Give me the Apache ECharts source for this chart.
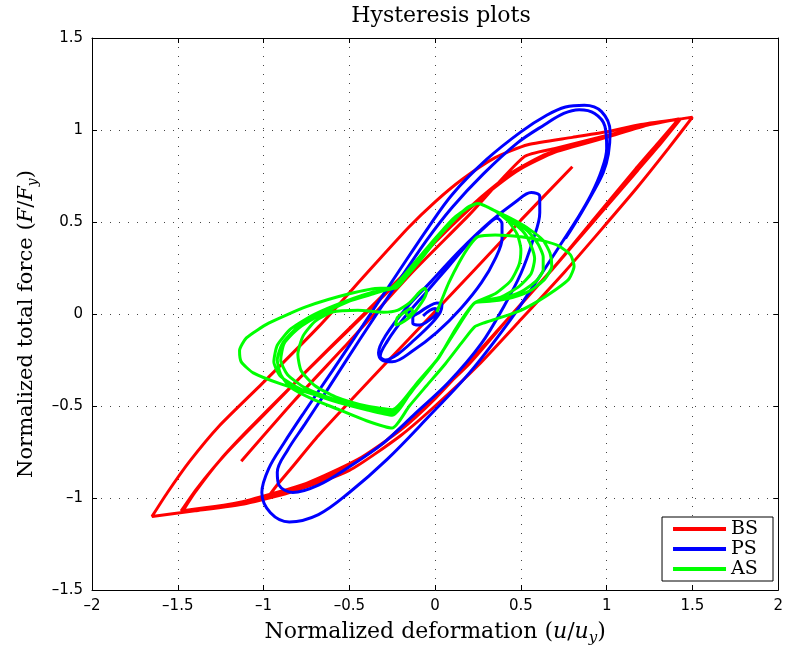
<!DOCTYPE html>
<html>
<head>
<meta charset="utf-8">
<script src="https://cdn.jsdelivr.net/npm/echarts@6/dist/echarts.min.js"></script>
<style>
  html, body { margin: 0; padding: 0; background: #fff; }
  #chart { width: 786px; height: 653px; }
</style>
</head>
<body>
<div id="chart"></div>
<script>
// Normalized deformation / force pairs [u/uy, F/Fy] for each system.
const seriesNames = ['BS', 'PS', 'AS'];

// BS: bilinear-type hysteresis, several full cycles, ends on a reloading branch
const bsPath = [
  [-1.13,-0.80],[-0.82,-0.47],[-0.5,-0.15],[-0.14,0.22],[0.2,0.54],[0.52,0.855],[0.7,0.9],[1.0,0.97],[1.2,1.02],[1.42,1.06],
  [1.3,0.92],[1.18,0.78],[0.93,0.51],[0.68,0.24],[0.43,-0.02],[0.2,-0.26],[0.0,-0.46],[-0.2,-0.63],[-0.45,-0.79],[-0.75,-0.92],[-1.08,-1.01],[-1.3,-1.05],[-1.47,-1.07],
  [-1.4,-0.97],[-1.25,-0.79],[-1.08,-0.62],[-0.77,-0.33],[-0.485,-0.07],[-0.2,0.19],[0.0,0.39],[0.2,0.57],[0.35,0.69],[0.5,0.79],[0.7,0.88],[1.0,0.96],[1.25,1.03],[1.5,1.07],
  [1.36,0.9],[1.18,0.69],[0.97,0.46],[0.756,0.23],[0.5,-0.03],[0.25,-0.28],[0.0,-0.5],[-0.2,-0.66],[-0.5,-0.85],[-0.85,-0.97],[-1.1,-1.03],[-1.4,-1.07],[-1.65,-1.1],
  [-1.56,-0.97],[-1.43,-0.8],[-1.26,-0.61],[-1.01,-0.38],[-0.68,-0.07],[-0.4,0.22],[-0.155,0.47],[0.0,0.61],[0.155,0.73],[0.35,0.85],[0.54,0.92],[0.8,0.96],[1.0,0.99],[1.2,1.03],[1.43,1.06],
  [1.3,0.91],[1.17,0.77],[0.92,0.5],[0.69,0.25],[0.44,-0.01],[0.2,-0.27],[-0.05,-0.49],[-0.3,-0.7],[-0.55,-0.85],[-0.8,-0.95],[-1.1,-1.02],[-1.48,-1.07],
  [-1.39,-0.95],[-1.22,-0.76],[-1.0,-0.55],[-0.75,-0.31],[-0.47,-0.05],[-0.2,0.2],[0.05,0.44],[0.25,0.62],[0.45,0.77],[0.65,0.87],[0.95,0.95],[1.2,1.02],[1.42,1.06],
  [1.3,0.93],[1.17,0.79],[0.93,0.52],[0.69,0.25],[0.44,-0.01],[0.2,-0.27],[-0.05,-0.49],[-0.3,-0.7],[-0.6,-0.88],[-0.85,-0.96],[-0.97,-0.99],
  [-0.93,-0.94],[-0.84,-0.84],[-0.68,-0.66],[-0.3,-0.28],[0.23,0.24],[0.5,0.51],[0.8,0.8]
];

// PS: elliptical loops spiralling out from the origin
const psPath = [
  [-0.07,-0.01],[-0.03,0.02],[0.0,0.03],[0.01,0.01],[-0.03,-0.03],[-0.09,-0.06],[-0.13,-0.05],[-0.13,-0.02],[-0.09,0.01],[-0.04,0.04],[0.01,0.06],[0.04,0.05],[0.03,0.01],[-0.02,-0.05],
  [-0.12,-0.14],[-0.22,-0.22],[-0.29,-0.25],[-0.32,-0.23],
  [-0.28,-0.15],[-0.18,-0.02],[-0.05,0.12],[0.08,0.26],[0.2,0.39],[0.3,0.48],[0.36,0.52],[0.39,0.49],[0.39,0.41],[0.35,0.3],[0.27,0.17],[0.15,0.03],[0.01,-0.1],[-0.13,-0.2],[-0.25,-0.26],[-0.31,-0.25],
  [-0.33,-0.21],[-0.29,-0.12],[-0.17,0.03],[-0.02,0.18],[0.15,0.35],[0.32,0.5],[0.47,0.61],[0.56,0.66],[0.61,0.64],[0.61,0.55],[0.57,0.4],[0.5,0.22],[0.4,0.04],[0.27,-0.16],
  [0.08,-0.37],[-0.115,-0.54],[-0.3,-0.7],[-0.5,-0.83],[-0.68,-0.93],[-0.83,-0.97],[-0.91,-0.93],[-0.92,-0.86],
  [-0.86,-0.74],[-0.76,-0.6],[-0.62,-0.4],[-0.44,-0.14],[-0.24,0.14],[-0.05,0.4],[0.1,0.58],[0.28,0.76],[0.48,0.93],[0.64,1.03],[0.75,1.09],[0.84,1.11],[0.93,1.09],[0.99,1.02],[1.0,0.9],
  [0.97,0.78],[0.91,0.65],[0.83,0.52],[0.74,0.39],[0.6,0.19],[0.44,-0.03],[0.2,-0.32],[-0.04,-0.56],[-0.28,-0.79],[-0.5,-0.97],[-0.68,-1.09],[-0.85,-1.13],[-0.96,-1.08],[-1.01,-0.97],
  [-0.97,-0.84],[-0.88,-0.7],[-0.76,-0.53],[-0.6,-0.31],[-0.42,-0.06],[-0.22,0.22],[-0.04,0.47],[0.1,0.65],[0.3,0.84],[0.5,0.99],[0.65,1.08],[0.76,1.125],[0.87,1.135],[0.97,1.1],[1.02,0.99],[1.01,0.87],[0.98,0.77],[0.92,0.66],[0.84,0.53],[0.76,0.41]
];

// AS: pinched loops with lobes on both sides, settling into small curls
const asPath = [
  [0.01,0.01],[0.04,0.08],[0.08,0.17],[0.14,0.28],[0.2,0.37],[0.25,0.42],[0.35,0.43],[0.5,0.42],[0.62,0.4],[0.72,0.37],[0.79,0.32],[0.81,0.26],[0.78,0.19],[0.7,0.13],[0.6,0.07],[0.5,0.02],[0.38,-0.02],[0.28,-0.05],[0.23,-0.07],
  [0.16,-0.15],[0.06,-0.27],[-0.05,-0.39],[-0.15,-0.5],[-0.25,-0.62],
  [-0.4,-0.58],[-0.56,-0.52],[-0.72,-0.46],[-0.84,-0.4],[-0.9,-0.33],[-0.92,-0.25],[-0.89,-0.16],[-0.8,-0.07],[-0.66,0.01],[-0.5,0.07],[-0.36,0.11],[-0.26,0.14],
  [-0.2,0.19],[-0.1,0.3],[0.0,0.41],[0.1,0.51],[0.18,0.57],[0.25,0.6],
  [0.35,0.56],[0.46,0.51],[0.55,0.46],[0.63,0.4],[0.67,0.33],[0.68,0.26],[0.64,0.19],[0.56,0.13],[0.45,0.09],[0.33,0.07],[0.23,0.06],
  [0.12,-0.08],[0.02,-0.24],[-0.1,-0.37],[-0.25,-0.54],
  [-0.4,-0.51],[-0.66,-0.45],[-0.9,-0.38],[-1.06,-0.32],[-1.13,-0.26],[-1.14,-0.2],[-1.1,-0.13],[-0.97,-0.05],[-0.75,0.04],[-0.5,0.11],[-0.32,0.14],[-0.23,0.14],
  [-0.17,0.2],[-0.08,0.3],[0.02,0.42],[0.12,0.52],[0.19,0.58],[0.25,0.6],
  [0.35,0.56],[0.45,0.51],[0.54,0.45],[0.6,0.38],[0.63,0.31],[0.63,0.24],[0.59,0.18],[0.5,0.12],[0.38,0.08],[0.23,0.06],
  [0.12,-0.09],[0.01,-0.25],[-0.11,-0.38],[-0.25,-0.55],
  [-0.4,-0.52],[-0.6,-0.47],[-0.78,-0.41],[-0.9,-0.34],[-0.94,-0.26],[-0.92,-0.17],[-0.84,-0.08],[-0.7,0.0],[-0.52,0.07],[-0.36,0.12],[-0.24,0.14],
  [-0.17,0.2],[-0.08,0.31],[0.02,0.43],[0.12,0.53],[0.25,0.6],
  [0.35,0.56],[0.45,0.5],[0.52,0.44],[0.56,0.37],[0.58,0.3],[0.56,0.22],[0.49,0.15],[0.38,0.09],[0.23,0.06],
  [0.12,-0.09],[0.01,-0.25],[-0.11,-0.39],[-0.25,-0.53],
  [-0.4,-0.51],[-0.6,-0.46],[-0.76,-0.4],[-0.86,-0.33],[-0.9,-0.25],[-0.88,-0.16],[-0.8,-0.08],[-0.66,0.0],[-0.5,0.07],[-0.35,0.12],[-0.24,0.14],
  [-0.17,0.2],[-0.08,0.31],[0.02,0.43],[0.12,0.53],[0.25,0.6],
  [0.35,0.56],[0.43,0.5],[0.48,0.43],[0.5,0.35],[0.49,0.27],[0.44,0.18],[0.35,0.11],[0.23,0.06],
  [0.12,-0.09],[0.01,-0.25],[-0.11,-0.38],[-0.25,-0.52],
  [-0.4,-0.5],[-0.58,-0.45],[-0.7,-0.39],[-0.78,-0.31],[-0.8,-0.22],[-0.77,-0.12],[-0.7,-0.04],[-0.6,0.01],[-0.45,0.02],[-0.3,0.01],[-0.22,0.02],
  [-0.15,0.06],[-0.09,0.12],[-0.06,0.14],[-0.05,0.12],[-0.08,0.06],[-0.14,-0.01],[-0.2,-0.05],[-0.23,-0.06],[-0.22,-0.02],[-0.18,0.01],[-0.14,0.03],[-0.13,0.01],[-0.16,-0.01],[-0.17,0.01]
];

const seriesColors = ['#ff0000', '#0000ff', '#00ff00'];
const xTicks = { min: -2, max: 2, step: 0.5 };
const yTicks = { min: -1.5, max: 1.5, step: 0.5 };

const serif = 'DejaVu Serif';
const sans = 'DejaVu Sans';

function tickText(v) {
  if (v === 0) return '0';
  return (v < 0 ? '\u2013' : '') + String(Math.abs(v));
}

const gridLine = { show: true, lineStyle: { color: '#444', width: 1, type: [1, 8] } };
const tickIn = { show: true, inside: true, length: 5, lineStyle: { color: '#000', width: 1 } };
const blackLine = { show: true, onZero: false, lineStyle: { color: '#000', width: 1 } };

function nameRich(size) {
  return {
    n: { fontFamily: serif, fontSize: size, color: '#000', lineHeight: 28 },
    i: { fontFamily: serif, fontSize: size, fontStyle: 'italic', color: '#000', lineHeight: 28 },
    s: { fontFamily: serif, fontSize: Math.round(size * 0.68), fontStyle: 'italic', color: '#000', lineHeight: 14, verticalAlign: 'bottom' }
  };
}

const chart = echarts.init(document.getElementById('chart'), null, { renderer: 'canvas' });

chart.setOption({
  animation: false,
  backgroundColor: '#fff',
  title: {
    text: 'Hysteresis plots',
    left: 436,
    textAlign: 'center',
    top: 0,
    textStyle: { fontFamily: serif, fontSize: 22, fontWeight: 'normal', color: '#000' }
  },
  grid: { left: 92, right: 5, top: 38, bottom: 63, containLabel: false },
  legend: {
    data: seriesNames,
    orient: 'vertical',
    right: 13,
    bottom: 72,
    icon: 'rect',
    itemWidth: 53,
    itemHeight: 4,
    itemGap: 0,
    padding: [2, 15, 2, 11],
    borderColor: '#000',
    borderWidth: 1,
    borderRadius: 0,
    backgroundColor: '#fff',
    textStyle: { fontFamily: serif, fontSize: 19, color: '#000', lineHeight: 20 }
  },
  xAxis: [
    {
      type: 'value', position: 'bottom',
      min: xTicks.min, max: xTicks.max, interval: xTicks.step,
      axisLine: blackLine, axisTick: tickIn, splitLine: gridLine,
      axisLabel: { formatter: tickText, fontFamily: sans, fontSize: 15, color: '#000', margin: 9 },
      name: '{n|Normalized deformation (}{i|u}{n|/}{i|u}{s|y}{n|)}',
      nameLocation: 'middle', nameGap: 28,
      nameTextStyle: { rich: nameRich(22) }
    },
    {
      type: 'value', position: 'top',
      min: xTicks.min, max: xTicks.max, interval: xTicks.step,
      axisLine: blackLine, axisTick: tickIn, splitLine: { show: false },
      axisLabel: { show: false }
    }
  ],
  yAxis: [
    {
      type: 'value', position: 'left',
      min: yTicks.min, max: yTicks.max, interval: yTicks.step,
      axisLine: blackLine, axisTick: tickIn, splitLine: gridLine,
      axisLabel: { formatter: tickText, fontFamily: sans, fontSize: 15, color: '#000', margin: 9 },
      name: '{n|Normalized total force (}{i|F}{n|/}{i|F}{s|y}{n|)}',
      nameLocation: 'middle', nameGap: 51,
      nameTextStyle: { rich: nameRich(21), padding: [0, 20, 0, 0] }
    },
    {
      type: 'value', position: 'right',
      min: yTicks.min, max: yTicks.max, interval: yTicks.step,
      axisLine: blackLine, axisTick: tickIn, splitLine: { show: false },
      axisLabel: { show: false }
    }
  ],
  series: [bsPath, psPath, asPath].map((path, k) => ({
    name: seriesNames[k],
    type: 'line',
    xAxisIndex: 0,
    yAxisIndex: 0,
    data: path,
    showSymbol: false,
    smooth: k === 1 ? 0.35 : 0.2,
    clip: true,
    lineStyle: { color: seriesColors[k], width: 3 },
    itemStyle: { color: seriesColors[k] },
    emphasis: { disabled: true },
    z: 2 + k
  }))
});
</script>
</body>
</html>
